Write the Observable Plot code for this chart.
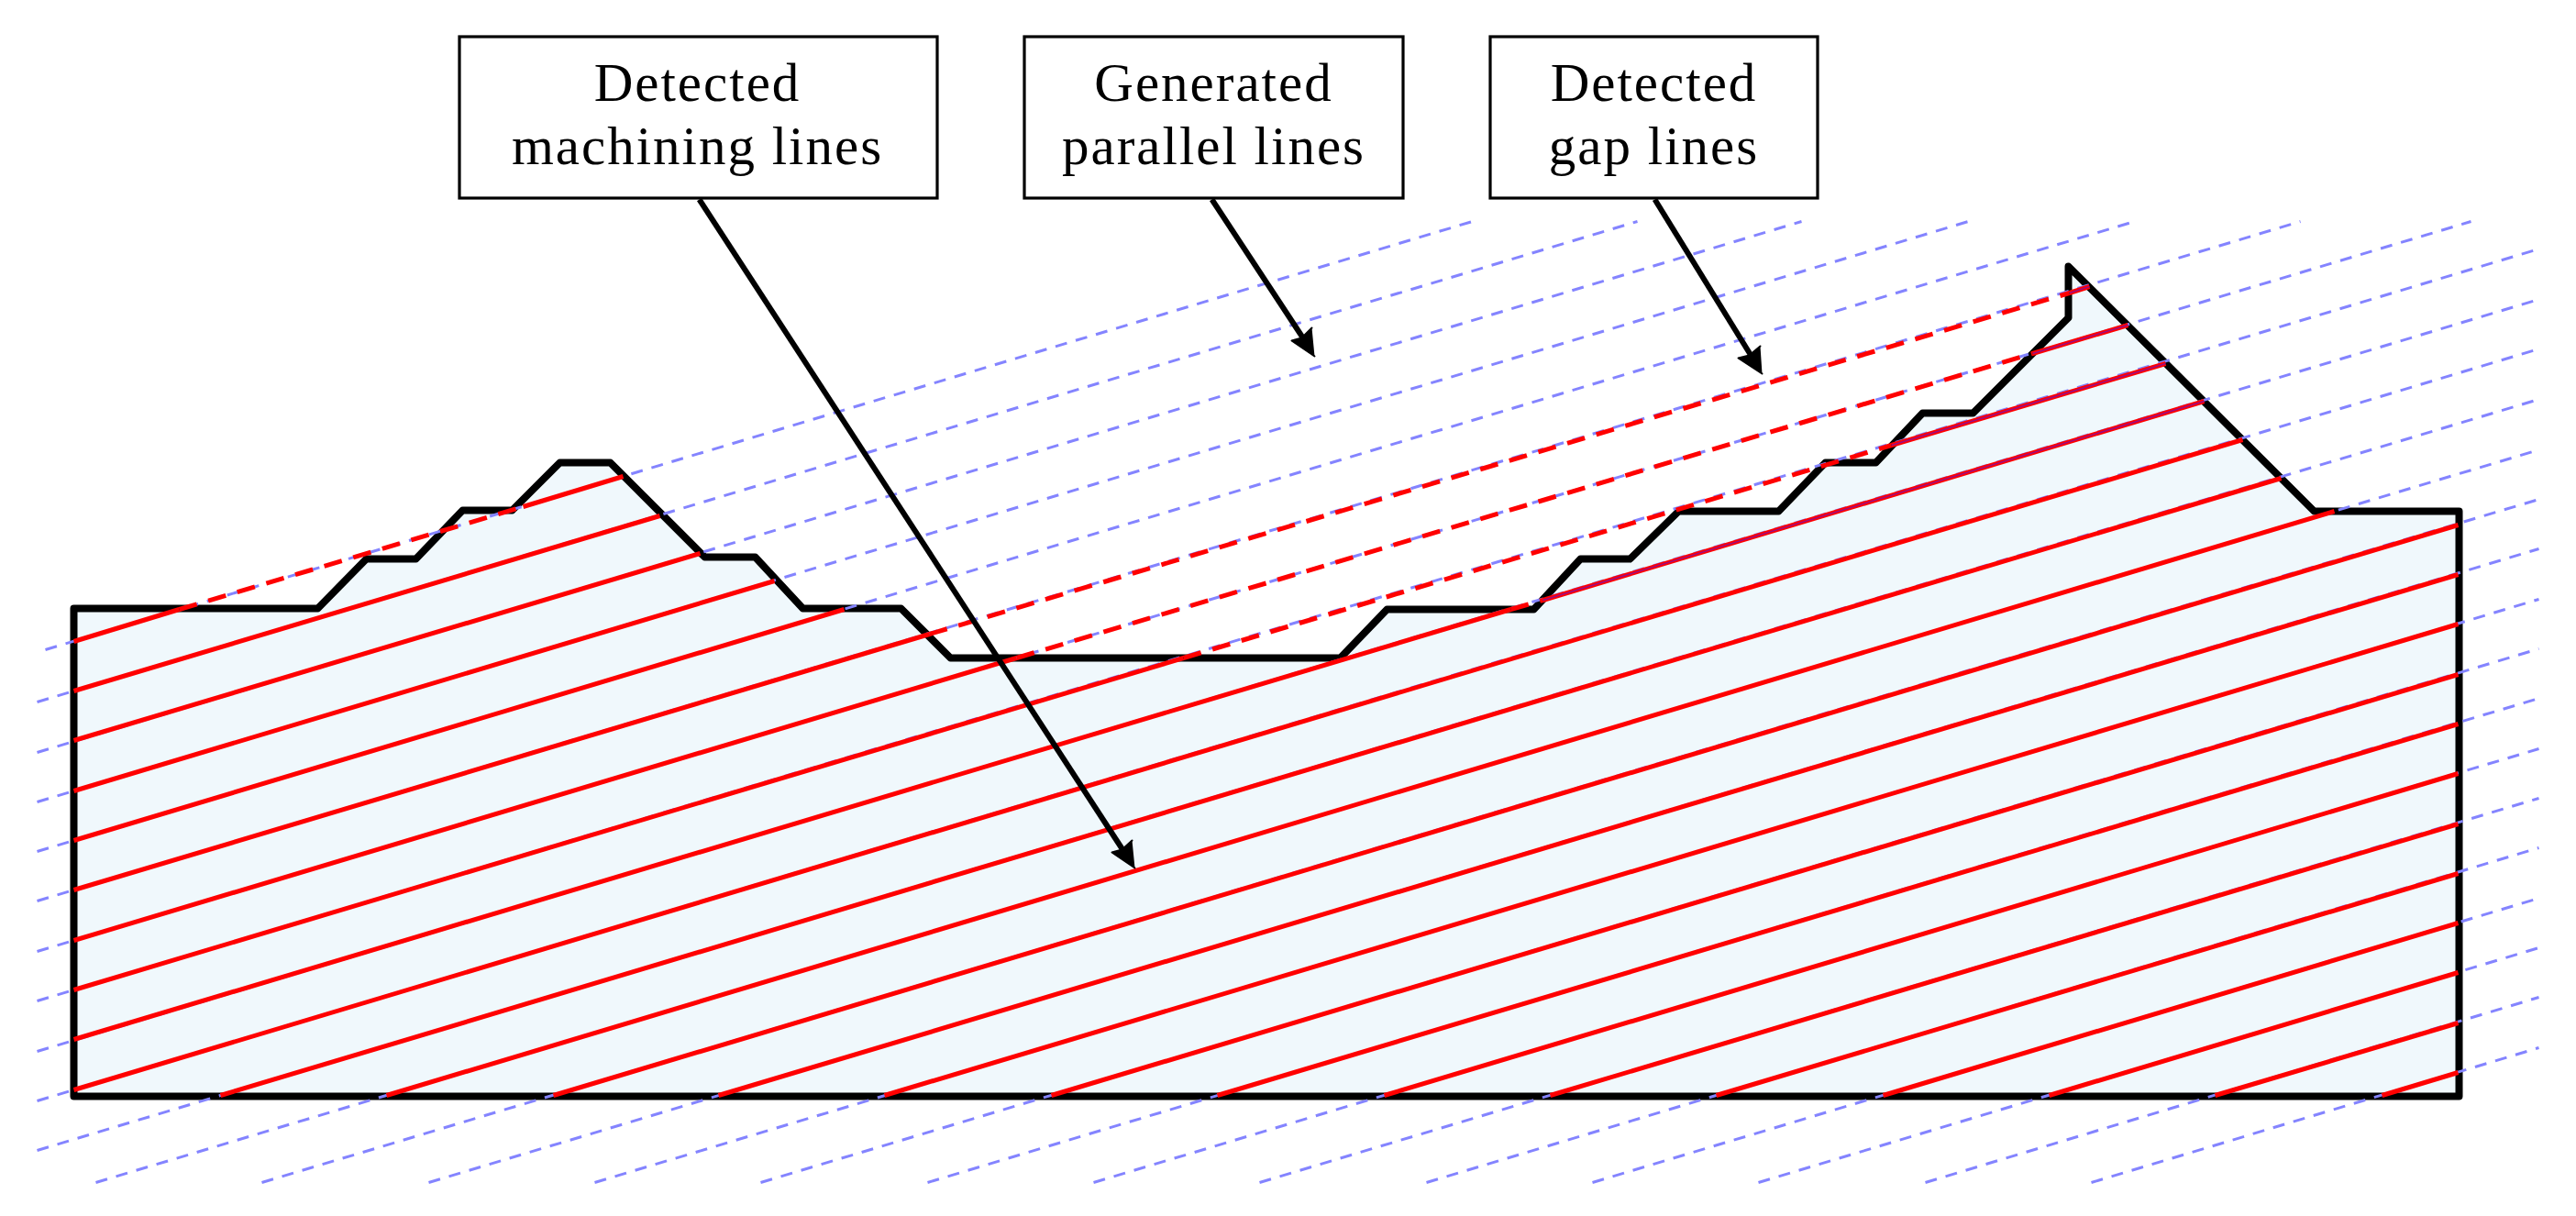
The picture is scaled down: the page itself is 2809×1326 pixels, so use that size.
<!DOCTYPE html>
<html>
<head>
<meta charset="utf-8">
<script src="https://cdn.jsdelivr.net/npm/d3@7"></script>
<script src="https://cdn.jsdelivr.net/npm/@observablehq/plot@0.6"></script>
<style>html,body{margin:0;padding:0;background:#fff}svg{display:block}</style>
</head>
<body>
<div id="chart"></div>
<script>
// Workpiece profile (closed)
const profileX = [1000,80,80,346,399,453,504,558,610,665,768,823,875,982,1036,1461,1512,1672,1723,1777,1830,1939,1990,2045,2096,2151,2255,2255,2523,2681,2681,1000];
const profileY = [1195,1195,663,663,609,609,556,556,504,504,607,607,663,663,717,717,664,664,609,609,557,557,504,504,450,450,346,290,557,557,1195,1195];

// Generated parallel lines (dashed blue)
const parallelX1 = [49,40,40,40,40,40,40,40,40,40,40,104,285,467,648,829,1011,1192,1373,1555,1736,1917,2099,2280];
const parallelY1 = [708,765,820,874,928,982,1037,1091,1146,1200,1254,1289,1289,1289,1289,1289,1289,1289,1289,1289,1289,1289,1289,1289];
const parallelX2 = [1605,1785,1964,2146,2327,2508,2694,2768,2768,2768,2768,2768,2768,2768,2768,2768,2768,2768,2768,2768,2768,2768,2768,2768];
const parallelY2 = [241,241,241,241,241,241,241,271,326,380,435,490,544,598,653,707,761,816,870,924,979,1033,1087,1142];

// Detected machining lines (solid red)
const machiningX1 = [80,570,80,80,80,80,80,2256,80,2216,80,2062,80,1682,80,240,421,603,783,964,1146,1327,1509,1690,1871,2053,2234,2415,2597];
const machiningY1 = [699,552,753,807,862,916,970,319,1025,385,1079,485,1133,654,1188,1194,1194,1194,1194,1194,1194,1194,1194,1194,1194,1194,1194,1194,1194];
const machiningX2 = [195,679,719,763,844,920,1013,2278,1108,2320,1290,2361,1647,2403,2445,2487,2545,2680,2680,2680,2680,2680,2680,2680,2680,2680,2680,2680,2680];
const machiningY2 = [664,519,562,603,633,664,691,312,717,354,717,396,664,437,479,521,557,572,626,680,735,789,843,898,952,1006,1060,1115,1169];

// Detected gap lines (dashed red)
const gapX1 = [195,1013,1108,1290,1647];
const gapY1 = [664,691,717,717,664];
const gapX2 = [570,2256,2216,2062,1682];
const gapY2 = [552,319,385,485,654];

// Blue showing through the red on the right-hand slope
const overlapX1 = [2256,2216,2062,1682];
const overlapY1 = [319,385,485,654];
const overlapX2 = [2278,2320,2361,2403];
const overlapY2 = [312,354,396,437];

// Callout boxes
const boxX1 = [501,1117,1625];
const boxX2 = [1022,1530,1982];
const boxY1 = [40,40,40];
const boxY2 = [216,216,216];
const labelLines = ["Detected","machining lines","Generated","parallel lines","Detected","gap lines"];
const labelX = [760,760,1323,1323,1803,1803];
const labelY = [91,160,91,160,91,160];

// Callout leaders
const leaderX1 = [762,1321,1804];
const leaderY1 = [217,217,217];
const leaderX2 = [1225,1421,1910];
const leaderY2 = [928,369,389];
const headGroup = [0,0,0,0,1,1,1,1,2,2,2,2];
const headX = [1237,1212,1223,1234, 1433,1408,1419,1430, 1921,1895,1907,1919];
const headY = [946,929,926,916, 388,371,368,357, 407,390,387,377];

const idx = a => d3.range(a.length);

const plot = Plot.plot({
  width: 2809,
  height: 1326,
  margin: 0,
  x: {domain: [0, 2809], range: [0, 2809], axis: null},
  y: {domain: [0, 1326], range: [0, 1326], axis: null},
  style: {background: "#fff"},
  marks: [
    Plot.line(idx(profileX), {x: profileX, y: profileY, fill: "#f0f8fc", stroke: "#000", strokeWidth: 8, strokeLinejoin: "round"}),
    Plot.link(idx(parallelX1), {x1: parallelX1, y1: parallelY1, x2: parallelX2, y2: parallelY2, stroke: "#8484ff", strokeWidth: 3, strokeDasharray: "13,10"}),
    Plot.link(idx(machiningX1), {x1: machiningX1, y1: machiningY1, x2: machiningX2, y2: machiningY2, stroke: "#ff0000", strokeWidth: 5}),
    Plot.link(idx(gapX1), {x1: gapX1, y1: gapY1, x2: gapX2, y2: gapY2, stroke: "#ff0000", strokeWidth: 5, strokeDasharray: "20,13"}),
    Plot.link(idx(overlapX1), {x1: overlapX1, y1: overlapY1, x2: overlapX2, y2: overlapY2, stroke: "#7a10b0", strokeWidth: 1.5, strokeOpacity: 0.75}),
    Plot.link(idx(leaderX1), {x1: leaderX1, y1: leaderY1, x2: leaderX2, y2: leaderY2, stroke: "#000", strokeWidth: 6}),
    Plot.line(idx(headX), {x: headX, y: headY, z: headGroup, fill: "#000", stroke: "#000", strokeWidth: 2}),
    Plot.rect(idx(boxX1), {x1: boxX1, x2: boxX2, y1: boxY1, y2: boxY2, fill: "#fff", stroke: "#000", strokeWidth: 3.2}),
    Plot.text(labelLines, {x: labelX, y: labelY, text: d => d, fontFamily: "Liberation Serif", fontSize: 59, fill: "#000", textAnchor: "middle", lineAnchor: "middle", stroke: null})
  ]
});
plot.style.letterSpacing = "2px";
document.getElementById("chart").append(plot);
</script>
</body>
</html>
